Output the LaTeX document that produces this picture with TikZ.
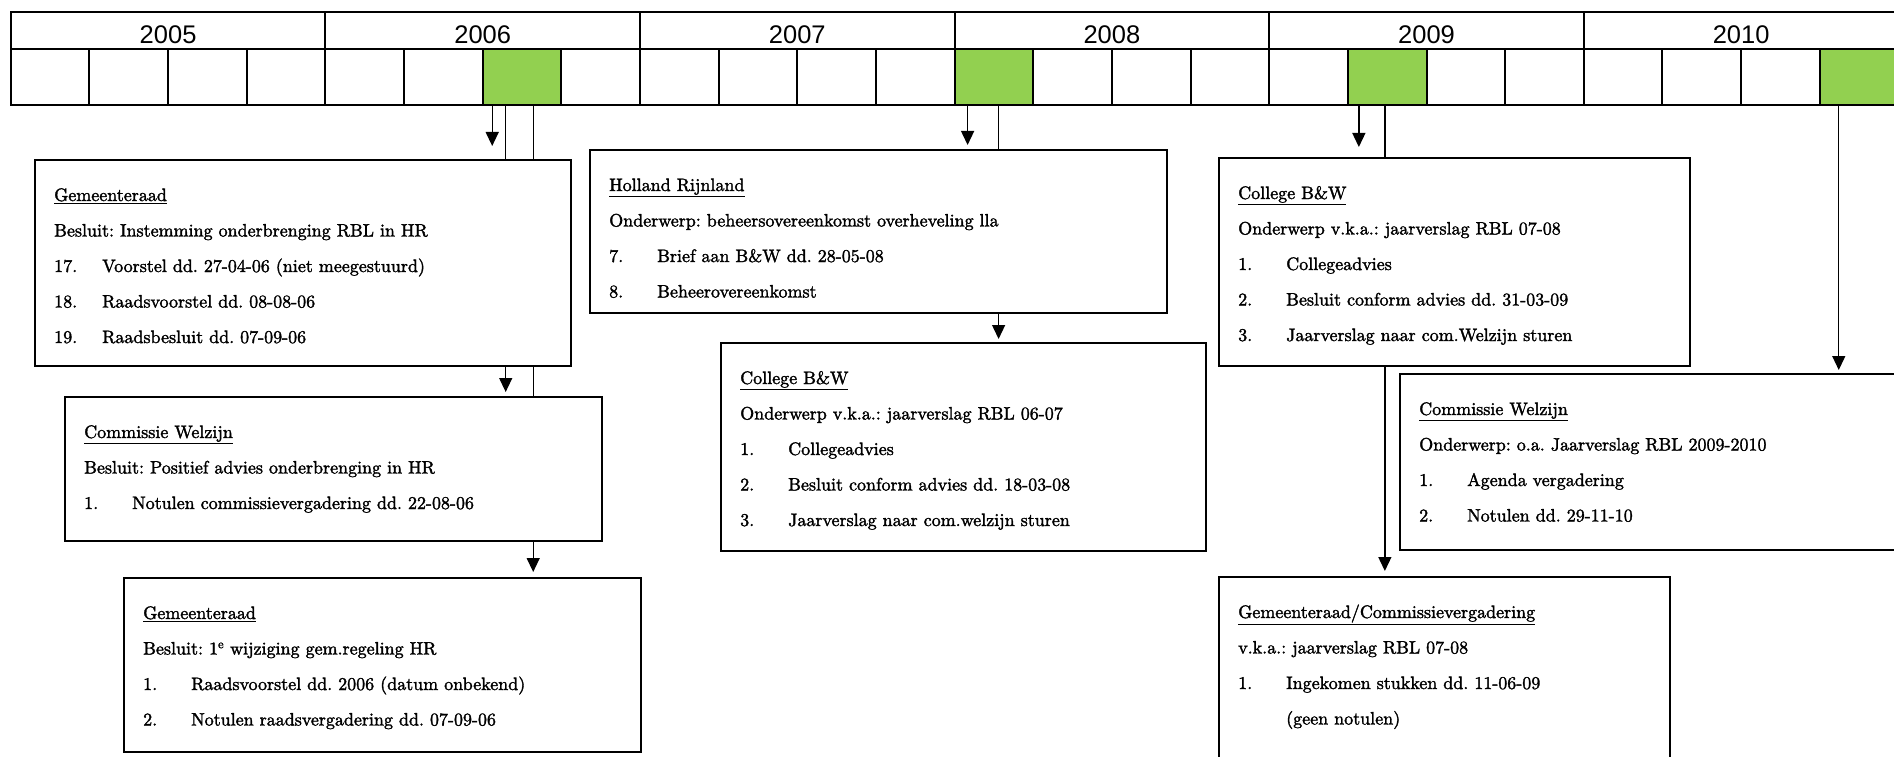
\documentclass[tikz,border=0pt]{standalone}
\usepackage{fontspec}
\newfontfamily\yearfont{Liberation Sans}
\newfontfamily\heavyfont[FakeBold=1.8]{lmroman10-regular.otf}
\usetikzlibrary{arrows.meta,calc}
\pgfdeclarelayer{bg}
\pgfsetlayers{bg,main}
\definecolor{cellgreen}{HTML}{92D050}
\tikzset{
  yearcell/.style={draw, line width=2pt, anchor=north west, inner sep=0pt, minimum width=314.6pt, minimum height=37pt},
  yeartxt/.style={anchor=base, inner sep=0pt, font=\yearfont\fontsize{25.5}{28}\selectfont},
  qcell/.style={draw, line width=2pt, anchor=north west, inner sep=0pt, minimum width=78.65pt, minimum height=56pt},
  infobox/.style={draw, line width=2pt, fill=white, anchor=north west, inner sep=0pt},
  tt/.style={anchor=base west, inner sep=0pt, font=\heavyfont\fontsize{18}{20}\selectfont\frenchspacing},
  arr/.style={line width=1.3pt, -{Triangle[width=13pt,length=14pt]}},
}
\begin{document}
\begin{tikzpicture}[x=1pt,y=-1pt]
\useasboundingbox (0,0) rectangle (1894,757);
\clip (0,0) rectangle (1894,757);

% timeline
\foreach \i/\yr in {0/2005,1/2006,2/2007,3/2008,4/2009,5/2010}{
  \node[yearcell] (y\i) at ({9.8+\i*314.6},11) {};
  \node[yeartxt] (yl\i) at ($(y\i.south)+(0,-6.3)$) {\yr};
}
\foreach \j in {0,...,23}{
  \node[qcell] (q\j) at ({9.8+\j*78.65},48) {};
}
\foreach \j in {6,12,17,23}{
  \node[qcell, fill=cellgreen] (q\j) at ({9.8+\j*78.65},48) {};
}

% boxes
\node[infobox, minimum width=536pt, minimum height=206pt] (A) at (34,159) {};
\node[infobox, minimum width=537pt, minimum height=144pt] (B) at (64,396) {};
\node[infobox, minimum width=517pt, minimum height=174pt] (C) at (123,577) {};
\node[infobox, minimum width=577pt, minimum height=163pt] (D) at (589,149) {};
\node[infobox, minimum width=485pt, minimum height=208pt] (E) at (720,342) {};
\node[infobox, minimum width=471pt, minimum height=208pt] (F) at (1218,157) {};
\node[infobox, minimum width=540pt, minimum height=176pt] (G) at (1399,373) {};
\node[infobox, minimum width=451pt, minimum height=210pt] (H) at (1218,576) {};

% connectors
\coordinate (a1) at ($(q6.south west)+(10.5,0)$);
\coordinate (a2) at ($(q6.south west)+(24,0)$);
\coordinate (a3) at ($(q6.south west)+(51.5,0)$);
\coordinate (d1) at ($(q12.south west)+(14,0)$);
\coordinate (d2) at ($(q12.south west)+(45,0)$);
\coordinate (f1) at ($(q17.south west)+(12,0)$);
\coordinate (f2) at ($(q17.south west)+(38,0)$);
\coordinate (g1) at ($(q23.south west)+(20,0)$);
\begin{pgfonlayer}{bg}
\draw[arr, shorten >=13pt] (a1) -- (a1 |- A.north);
\draw[arr, shorten >=4pt] (a2) -- (a2 |- B.north);
\draw[arr, shorten >=5pt] (a3) -- (a3 |- C.north);
\draw[arr, shorten >=4pt] (d1) -- (d1 |- D.north);
\draw[arr, shorten >=3pt] (d2) -- (d2 |- E.north);
\draw[arr, shorten >=10pt] (f1) -- (f1 |- F.north);
\draw[arr, shorten >=5pt] (f2) -- (f2 |- H.north);
\draw[arr, shorten >=3pt] (g1) -- (g1 |- G.north);
\end{pgfonlayer}

% box A
\node[tt] (A1) at ($(A.north west)+(20,42)$) {\underline{Gemeenteraad}};
\node[tt] (A2) at ($(A.north west)+(20,77.5)$) {Besluit: Instemming onderbrenging RBL in HR};
\node[tt] (A3n) at ($(A.north west)+(20,113)$) {17.};
\node[tt] (A3) at ($(A.north west)+(68,113)$) {Voorstel dd. 27-04-06 (niet meegestuurd)};
\node[tt] (A4n) at ($(A.north west)+(20,148.5)$) {18.};
\node[tt] (A4) at ($(A.north west)+(68,148.5)$) {Raadsvoorstel dd. 08-08-06};
\node[tt] (A5n) at ($(A.north west)+(20,184)$) {19.};
\node[tt] (A5) at ($(A.north west)+(68,184)$) {Raadsbesluit dd. 07-09-06};

% box B
\node[tt] (B1) at ($(B.north west)+(20,42)$) {\underline{Commissie Welzijn}};
\node[tt] (B2) at ($(B.north west)+(20,77.5)$) {Besluit: Positief advies onderbrenging in HR};
\node[tt] (B3n) at ($(B.north west)+(20,113)$) {1.};
\node[tt] (B3) at ($(B.north west)+(68,113)$) {Notulen commissievergadering dd. 22-08-06};

% box C
\node[tt] (C1) at ($(C.north west)+(20,42)$) {\underline{Gemeenteraad}};
\node[tt] (C2) at ($(C.north west)+(20,77.5)$) {Besluit: 1\textsuperscript{e} wijziging gem.regeling HR};
\node[tt] (C3n) at ($(C.north west)+(20,113)$) {1.};
\node[tt] (C3) at ($(C.north west)+(68,113)$) {Raadsvoorstel dd. 2006 (datum onbekend)};
\node[tt] (C4n) at ($(C.north west)+(20,148.5)$) {2.};
\node[tt] (C4) at ($(C.north west)+(68,148.5)$) {Notulen raadsvergadering dd. 07-09-06};

% box D
\node[tt] (D1) at ($(D.north west)+(20,42)$) {\underline{Holland Rijnland}};
\node[tt] (D2) at ($(D.north west)+(20,77.5)$) {Onderwerp: beheersovereenkomst overheveling lla};
\node[tt] (D3n) at ($(D.north west)+(20,113)$) {7.};
\node[tt] (D3) at ($(D.north west)+(68,113)$) {Brief aan B\&W dd. 28-05-08};
\node[tt] (D4n) at ($(D.north west)+(20,148.5)$) {8.};
\node[tt] (D4) at ($(D.north west)+(68,148.5)$) {Beheerovereenkomst};

% box E
\node[tt] (E1) at ($(E.north west)+(20,42)$) {\underline{College B\&W}};
\node[tt] (E2) at ($(E.north west)+(20,77.5)$) {Onderwerp v.k.a.: jaarverslag RBL 06-07};
\node[tt] (E3n) at ($(E.north west)+(20,113)$) {1.};
\node[tt] (E3) at ($(E.north west)+(68,113)$) {Collegeadvies};
\node[tt] (E4n) at ($(E.north west)+(20,148.5)$) {2.};
\node[tt] (E4) at ($(E.north west)+(68,148.5)$) {Besluit conform advies dd. 18-03-08};
\node[tt] (E5n) at ($(E.north west)+(20,184)$) {3.};
\node[tt] (E5) at ($(E.north west)+(68,184)$) {Jaarverslag naar com.welzijn sturen};

% box F
\node[tt] (F1) at ($(F.north west)+(20,42)$) {\underline{College B\&W}};
\node[tt] (F2) at ($(F.north west)+(20,77.5)$) {Onderwerp v.k.a.: jaarverslag RBL 07-08};
\node[tt] (F3n) at ($(F.north west)+(20,113)$) {1.};
\node[tt] (F3) at ($(F.north west)+(68,113)$) {Collegeadvies};
\node[tt] (F4n) at ($(F.north west)+(20,148.5)$) {2.};
\node[tt] (F4) at ($(F.north west)+(68,148.5)$) {Besluit conform advies dd. 31-03-09};
\node[tt] (F5n) at ($(F.north west)+(20,184)$) {3.};
\node[tt] (F5) at ($(F.north west)+(68,184)$) {Jaarverslag naar com.Welzijn sturen};

% box G
\node[tt] (G1) at ($(G.north west)+(20,42)$) {\underline{Commissie Welzijn}};
\node[tt] (G2) at ($(G.north west)+(20,77.5)$) {Onderwerp: o.a. Jaarverslag RBL 2009-2010};
\node[tt] (G3n) at ($(G.north west)+(20,113)$) {1.};
\node[tt] (G3) at ($(G.north west)+(68,113)$) {Agenda vergadering};
\node[tt] (G4n) at ($(G.north west)+(20,148.5)$) {2.};
\node[tt] (G4) at ($(G.north west)+(68,148.5)$) {Notulen dd. 29-11-10};

% box H
\node[tt] (H1) at ($(H.north west)+(20,42)$) {\underline{Gemeenteraad/Commissievergadering}};
\node[tt] (H2) at ($(H.north west)+(20,77.5)$) {v.k.a.: jaarverslag RBL 07-08};
\node[tt] (H3n) at ($(H.north west)+(20,113)$) {1.};
\node[tt] (H3) at ($(H.north west)+(68,113)$) {Ingekomen stukken dd. 11-06-09};
\node[tt] (H4) at ($(H.north west)+(68,148.5)$) {(geen notulen)};
\end{tikzpicture}
\end{document}
